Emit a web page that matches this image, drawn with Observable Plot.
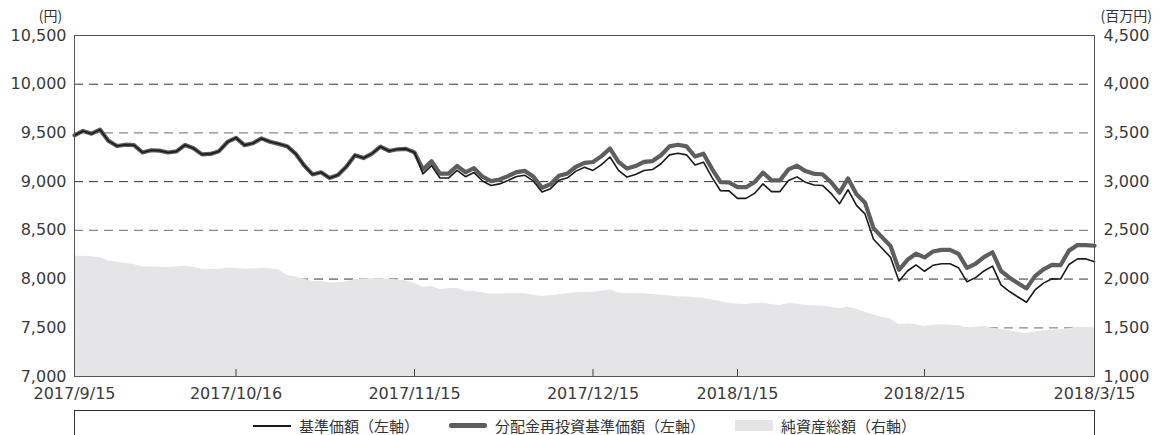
<!DOCTYPE html>
<html><head><meta charset="utf-8">
<script src="https://cdn.jsdelivr.net/npm/d3@7"></script>
<script src="https://cdn.jsdelivr.net/npm/@observablehq/plot@0.6"></script>
<style>
html,body{margin:0;padding:0;background:#fff;}
#wrap{position:relative;width:1174px;height:435px;overflow:hidden;background:#fff;}
#chart svg{display:block;}
#legend{position:absolute;top:410px;left:74px;width:1021px;height:30px;box-sizing:border-box;border:1px solid #333;border-bottom:none;display:flex;justify-content:center;align-items:center;gap:30px;padding:0;font-family:"Noto Sans CJK JP";font-size:15px;line-height:18px;color:#333;}
.item{display:flex;align-items:center;height:18px;}
.sw{display:block;width:38px;margin-right:8px;}
</style></head><body><div id="wrap"><div id="chart"></div><div id="legend"></div></div>
<script>
// x tick labels (business-day index positions)
const xTickLabels = ["2017/9/15","2017/10/16","2017/11/15","2017/12/15","2018/1/15","2018/2/15","2018/3/15"];
const xTickIndex = [0,19,40,61,78,100,120];
const leftTicks = [7000,7500,8000,8500,9000,9500,10000,10500];
const rightTicks = [1000,1500,2000,2500,3000,3500,4000,4500];
const gridDark = [8000,9000,10000];
const gridLight = [7500,8500,9500];
const unitLeft = "(円)";
const unitRight = "(百万円)";
const seriesNames = ["基準価額（左軸）","分配金再投資基準価額（左軸）","純資産総額（右軸）"];

// 基準価額 (円)
const nav = [
9476,9520,9492,9534,9418,9366,9379,9374,9299,9322,
9318,9299,9311,9376,9342,9280,9285,9313,9407,9450,
9375,9394,9444,9410,9388,9364,9288,9168,9074,9096,
9038,9068,9155,9272,9242,9288,9359,9315,9332,9336,
9300,9080,9164,9037,9037,9116,9051,9093,9006,8960,
8977,9012,9053,9065,9005,8893,8928,9015,9039,9108,
9147,9115,9175,9253,9115,9047,9073,9115,9124,9184,
9275,9292,9275,9171,9200,9044,8907,8905,8828,8828,
8879,8977,8898,8898,9011,9049,8993,8965,8961,8880,
8772,8917,8756,8669,8408,8316,8224,7980,8083,8145,
8080,8141,8158,8158,8117,7972,8015,8083,8133,7941,
7872,7816,7762,7888,7958,8004,8000,8150,8207,8207,
8177];
// 分配金再投資基準価額 (円)
const reinv = [
9476,9520,9492,9534,9418,9366,9379,9374,9299,9322,
9318,9299,9311,9376,9342,9280,9285,9313,9407,9450,
9375,9394,9444,9410,9388,9364,9288,9168,9074,9096,
9038,9068,9155,9272,9242,9288,9359,9315,9332,9336,
9300,9125,9209,9082,9082,9161,9096,9138,9051,9005,
9022,9057,9098,9110,9050,8938,8973,9060,9084,9153,
9192,9202,9262,9340,9202,9134,9160,9202,9211,9271,
9362,9379,9362,9258,9287,9131,8994,8992,8943,8943,
8994,9092,9013,9013,9126,9164,9108,9080,9076,8995,
8887,9032,8871,8784,8523,8431,8339,8095,8198,8260,
8222,8283,8300,8300,8259,8114,8157,8225,8275,8083,
8014,7958,7904,8030,8100,8146,8142,8292,8349,8349,
8342];
// 純資産総額 (百万円)
const assets = [
2235,2235,2230,2220,2185,2172,2160,2150,2125,2124,
2122,2120,2125,2132,2122,2100,2098,2100,2110,2112,
2100,2103,2110,2105,2096,2040,2020,2000,1978,1975,
1962,1962,1970,1995,2000,2003,2003,1998,1993,1980,
1958,1917,1924,1893,1900,1907,1876,1873,1860,1845,
1847,1849,1850,1849,1835,1822,1830,1839,1850,1859,
1862,1866,1875,1890,1856,1852,1850,1849,1842,1835,
1825,1818,1815,1808,1804,1785,1770,1750,1743,1739,
1750,1753,1739,1729,1750,1745,1729,1725,1722,1710,
1695,1712,1690,1660,1630,1609,1590,1530,1541,1530,
1517,1525,1531,1525,1524,1500,1505,1514,1495,1480,
1470,1455,1439,1460,1466,1475,1480,1490,1505,1502,
1500];

const offset = leftTicks[0] - rightTicks[0];
const innerTicks = xTickIndex.slice(1, -1);
const fmt = d3.format(",");

const chart = Plot.plot({
  width: 1174, height: 410,
  marginLeft: 74, marginRight: 80, marginTop: 35, marginBottom: 34,
  style: {fontFamily: "DejaVu Sans", fontSize: "16px", color: "#3a3a3a", background: "#fff"},
  x: {type: "linear", domain: [0, nav.length - 1]},
  y: {domain: [leftTicks[0], leftTicks[leftTicks.length - 1]]},
  marks: [
    Plot.ruleY(gridDark, {stroke: "#333", strokeDasharray: "9,6"}),
    Plot.ruleY(gridLight, {stroke: "#888", strokeDasharray: "9,6", strokeWidth: 1.3}),
    Plot.areaY(assets, {x: (d, i) => i, y1: () => rightTicks[0] + offset, y2: d => d + offset, fill: "#e5e5e7"}),
    Plot.line(reinv, {x: (d, i) => i, y: d => d, stroke: "#5e5e5e", strokeWidth: 4.2}),
    Plot.line(nav, {x: (d, i) => i, y: d => d, stroke: "#1a1a1a", strokeWidth: 1.6}),
    Plot.frame({stroke: "#555"}),
    Plot.axisY({anchor: "left", ticks: leftTicks, tickFormat: fmt, tickSize: 0, tickPadding: 8, label: null}),
    Plot.axisY({anchor: "right", ticks: rightTicks.map(d => d + offset), tickFormat: d => fmt(d - offset), tickSize: 0, tickPadding: 9, label: null}),
    Plot.axisX({ticks: xTickIndex, tickFormat: d => xTickLabels[xTickIndex.indexOf(d)], tickSize: 0, tickPadding: 11, label: null}),
    Plot.axisX({ticks: innerTicks, tickFormat: () => "", tickSize: -7, stroke: "#444", label: null}),
    Plot.text([unitLeft], {text: d => d, frameAnchor: "top-left", dx: -24, dy: -24, textAnchor: "middle", fontFamily: "Noto Sans CJK JP", fontSize: 14, fill: "#333"}),
    Plot.text([unitRight], {text: d => d, frameAnchor: "top-right", dx: 6, dy: -24, textAnchor: "start", fontFamily: "Noto Sans CJK JP", fontSize: 14, fill: "#333"})
  ]
});
document.getElementById("chart").appendChild(chart);

const legend = document.getElementById("legend");
const swatches = [
  '<span class="sw" style="height:2px;background:#1a1a1a"></span>',
  '<span class="sw" style="height:5px;background:#5e5e5e;border-radius:2px"></span>',
  '<span class="sw" style="height:11px;background:#e5e5e7"></span>'
];
seriesNames.forEach((name, k) => {
  const it = document.createElement("div");
  it.className = "item";
  it.innerHTML = swatches[k] + "<span>" + name + "</span>";
  legend.appendChild(it);
});
</script>
</body></html>
